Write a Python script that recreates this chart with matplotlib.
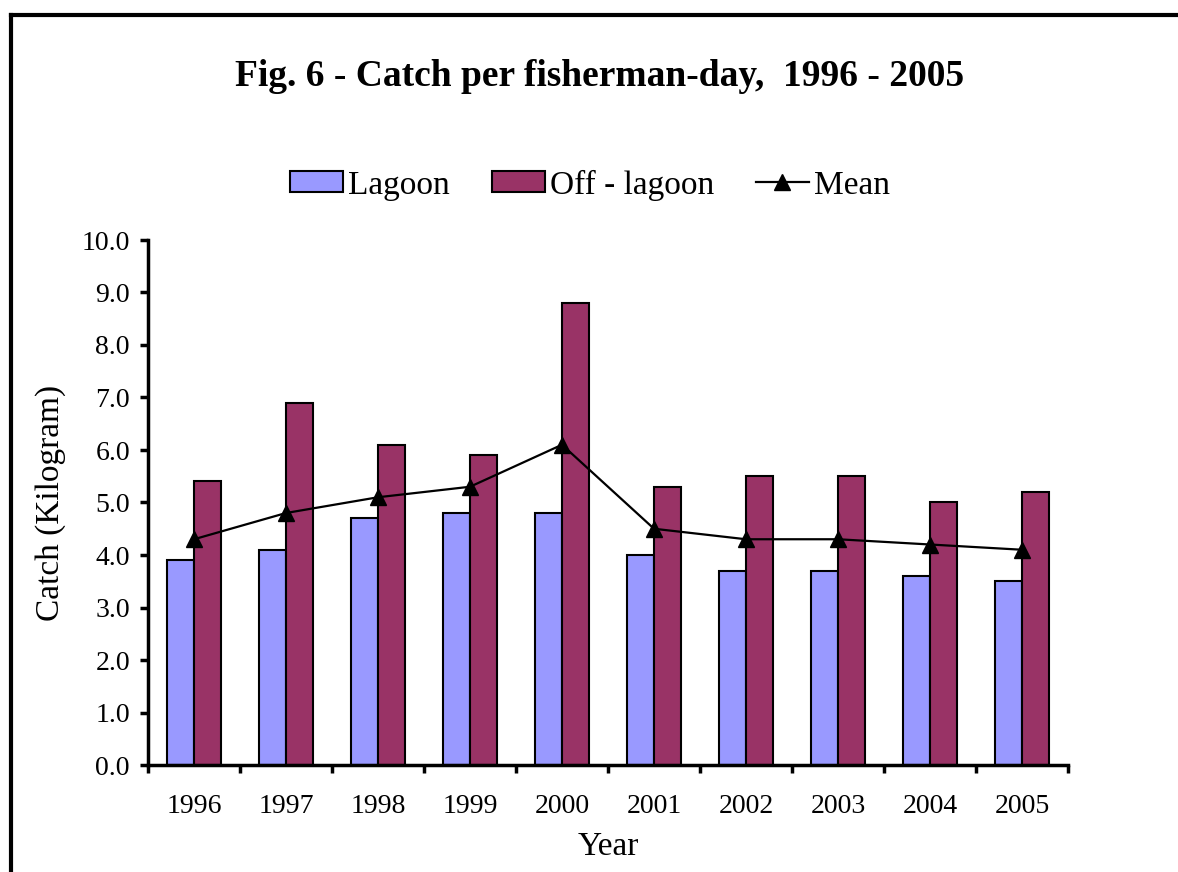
import matplotlib
matplotlib.use("Agg")
import matplotlib.pyplot as plt
import numpy as np
from matplotlib.lines import Line2D

plt.rcParams['font.family'] = ['Liberation Serif', 'DejaVu Serif']

years = ['1996', '1997', '1998', '1999', '2000', '2001', '2002', '2003', '2004', '2005']
lagoon = [3.9, 4.1, 4.7, 4.8, 4.8, 4.0, 3.7, 3.7, 3.6, 3.5]
off_lagoon = [5.4, 6.9, 6.1, 5.9, 8.8, 5.3, 5.5, 5.5, 5.0, 5.2]
mean = [4.3, 4.8, 5.1, 5.3, 6.1, 4.5, 4.3, 4.3, 4.2, 4.1]

fig = plt.figure(figsize=(11.78, 8.72), dpi=100)
ax = fig.add_axes([148/1178, 1-765/872, 920/1178, 525/872])

x = np.arange(len(years))
w = 0.29
b1 = ax.bar(x - w/2, lagoon, w, color='#9999FF', edgecolor='black', linewidth=1.5, label='Lagoon', zorder=2)
b2 = ax.bar(x + w/2, off_lagoon, w, color='#993366', edgecolor='black', linewidth=1.5, label='Off - lagoon', zorder=2)
l1, = ax.plot(x, mean, color='black', linewidth=1.6, marker='^', markersize=11, label='Mean', zorder=3)

ax.set_xlim(-0.5, len(years) - 0.5)
ax.set_ylim(0, 10)
ax.set_yticks(np.arange(0, 10.1, 1.0))
ax.set_yticklabels(['%.1f' % v for v in np.arange(0, 10.1, 1.0)])
ax.set_xticks(np.arange(-0.5, len(years), 1.0))
ax.set_xticklabels([])
ax.set_xticks(x, minor=True)
ax.set_xticklabels(years, minor=True)
ax.tick_params(axis='x', which='major', direction='out', length=6, width=2.5)
ax.tick_params(axis='x', which='minor', length=0, pad=21, labelsize=20)
ax.tick_params(axis='y', direction='out', length=6, width=2.5, pad=7, labelsize=20)

for s in ['top', 'right']:
    ax.spines[s].set_visible(False)
for s in ['left', 'bottom']:
    ax.spines[s].set_linewidth(2.5)

ax.set_xlabel('Year', fontsize=24, labelpad=9)
ax.set_ylabel('Catch (Kilogram)', fontsize=24, labelpad=11)

fig.text(600/1178, 1-76/872, 'Fig. 6 - Catch per fisherman-day,  1996 - 2005',
         ha='center', va='center', fontsize=27, fontweight='bold')

fig.legend([b1, b2, l1], ['Lagoon', 'Off - lagoon', 'Mean'],
           loc='center', bbox_to_anchor=(590/1178, 1-185/872), ncol=3, frameon=False,
           fontsize=24, handlelength=1.6, handleheight=0.6, handletextpad=0.15, columnspacing=1.25)

# outer border (top and left only visible)
fig.add_artist(Line2D([11/1178, 1], [1-15/872, 1-15/872], transform=fig.transFigure, color='black', linewidth=3))
fig.add_artist(Line2D([11/1178, 11/1178], [0, 1-15/872], transform=fig.transFigure, color='black', linewidth=3))

fig.savefig('out.png', dpi=100)
